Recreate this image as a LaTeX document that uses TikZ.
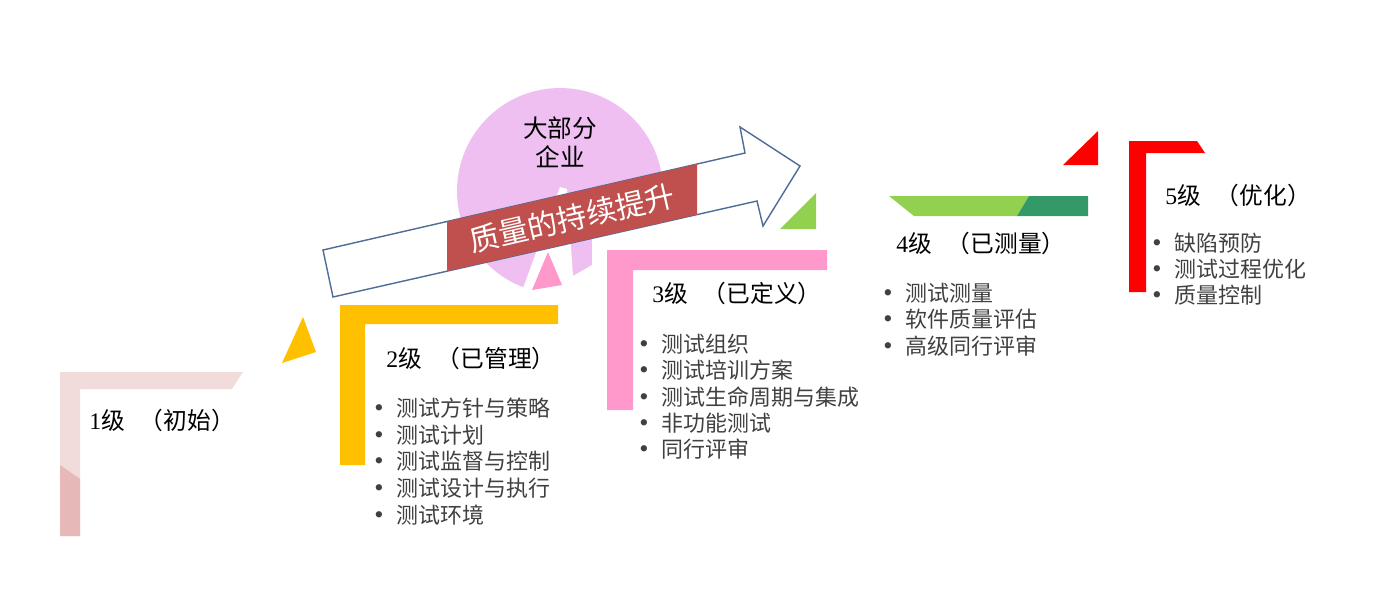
\documentclass[tikz,border=0pt]{standalone}
\usepackage{fontspec}
\setmainfont{Liberation Serif}
\newfontfamily\cjk{Noto Sans CJK SC}
\definecolor{lilac}{HTML}{EEBFF0}
\definecolor{rosepale}{HTML}{F2DCDB}
\definecolor{rosedeep}{HTML}{E6B8B7}
\definecolor{amber}{HTML}{FFC000}
\definecolor{candy}{HTML}{FF99CC}
\definecolor{leaf}{HTML}{92D050}
\definecolor{pine}{HTML}{339966}
\definecolor{signal}{HTML}{FF0000}
\definecolor{brick}{HTML}{C0504D}
\definecolor{slate}{HTML}{4F6B98}
\definecolor{ink}{HTML}{404040}
\tikzset{
  lvl/.style={anchor=west,inner sep=0pt,text=black,font=\fontsize{13.5pt}{15pt}\selectfont},
  itm/.style={anchor=west,inner sep=0pt,text=ink,font=\fontsize{12.5pt}{14pt}\selectfont},
}
\newcommand\bul{\makebox[0.44cm][l]{\fontsize{15pt}{15pt}\selectfont\textbullet}}
\newcommand\gap{\hspace{0.3cm}}

\begin{document}
\begin{tikzpicture}[x=0.02cm,y=-0.02cm]
\useasboundingbox (0,0) rectangle (1375,609);

% circle behind the arrow
\fill[lilac] (560,191) circle[radius=2.06cm];
\fill[white] (560,187) -- (567,189) -- (573,276) -- (592,265) -- (592,310) -- (515,310) -- cycle;
\fill[white] (592,225) rectangle (680,310);
\node[font=\cjk\fontsize{14pt}{16.5pt}\selectfont,align=center] (most) at (560,142) {大部分\\企业};

% arrow with banner
\draw[slate,fill=white,line width=0.8pt] (323,250) -- (745,153) -- (740,127) -- (800,166)
  -- (763,226) -- (757,201) -- (333,297) -- cycle;
\fill[brick] (447,221.5) -- (697,164) -- (697,214.6) -- (447,271.2) -- cycle;
\node[rotate=12.9,text=white,font=\cjk\fontsize{17pt}{18pt}\selectfont] (gain) at (572,218) {质量的持续提升};

% level 1
\fill[rosepale] (60,372) -- (243,372) -- (232,389) -- (80,389) -- (80,536) -- (60,536) -- cycle;
\fill[rosedeep] (60,465) -- (80,479) -- (80,536) -- (60,536) -- cycle;
\node[lvl] (h1) at (89,420) {1{\cjk 级\gap （初始）}};

% level 2
\fill[amber] (303,317) -- (316,352) -- (282,363) -- cycle;
\fill[amber] (340,305) -- (558,305) -- (558,324) -- (365,324) -- (365,465) -- (340,465) -- cycle;
\node[lvl] (h2) at (386,358) {2{\cjk 级\gap （已管理）}};
\foreach \i/\txt in {0/测试方针与策略,1/测试计划,2/测试监督与控制,3/测试设计与执行,4/测试环境}{
  \node[itm] (m2-\i) at (374,408+26.7*\i) {\bul{\cjk\txt}};
}

% level 3
\fill[candy] (548,252) -- (562,285) -- (532,290) -- cycle;
\fill[candy] (607,250) -- (827,250) -- (827,270) -- (633,270) -- (633,410) -- (607,410) -- cycle;
\node[lvl] (h3) at (652,293) {3{\cjk 级\gap （已定义）}};
\foreach \i/\txt in {0/测试组织,1/测试培训方案,2/测试生命周期与集成,3/非功能测试,4/同行评审}{
  \node[itm] (m3-\i) at (639,344+26.3*\i) {\bul{\cjk\txt}};
}

% level 4
\fill[leaf] (780,229) -- (816,193) -- (816,229) -- cycle;
\fill[leaf] (889,196) -- (1029,196) -- (1017,216) -- (914,216) -- cycle;
\fill[pine] (1029,196) -- (1088,196) -- (1088,216) -- (1017,216) -- cycle;
\node[lvl] (h4) at (896,243) {4{\cjk 级\gap （已测量）}};
\foreach \i/\txt in {0/测试测量,1/软件质量评估,2/高级同行评审}{
  \node[itm] (m4-\i) at (883,293+26.5*\i) {\bul{\cjk\txt}};
}

% level 5
\fill[signal] (1063,165) -- (1098,131) -- (1098,165) -- cycle;
\fill[signal] (1129,141) -- (1197,141) -- (1205,153) -- (1146,153) -- (1146,292) -- (1129,292) -- cycle;
\node[lvl] (h5) at (1165,195) {5{\cjk 级\gap （优化）}};
\foreach \i/\txt in {0/缺陷预防,1/测试过程优化,2/质量控制}{
  \node[itm] (m5-\i) at (1152,243+26*\i) {\bul{\cjk\txt}};
}

\end{tikzpicture}
\end{document}
